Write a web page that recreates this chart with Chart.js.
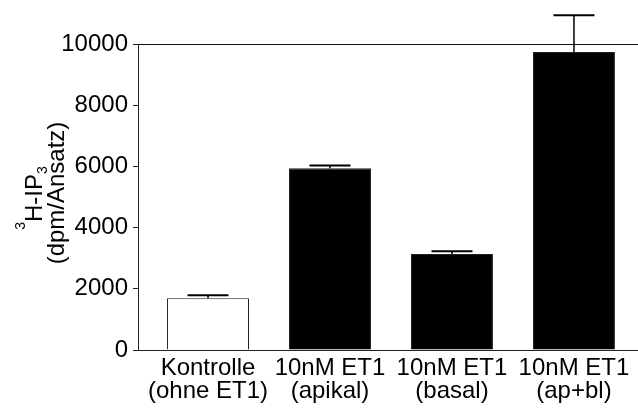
<!DOCTYPE html>
<html>
<head>
<meta charset="utf-8">
<script src="https://cdn.jsdelivr.net/npm/chart.js@4"></script>
<style>
  html, body { margin: 0; padding: 0; background: #fff; }
  canvas { display: block; }
</style>
</head>
<body>
<canvas id="myChart" width="638" height="410"></canvas>
<script>
// values
var categories = [
    ['Kontrolle', '(ohne ET1)'],
    ['10nM ET1', '(apikal)'],
    ['10nM ET1', '(basal)'],
    ['10nM ET1', '(ap+bl)']
];
var ipValues = [1690, 5940, 3140, 9740];
var ipErrors = [100, 90, 90, 1200];
var barColors = ['#ffffff', '#000000', '#000000', '#000000'];
var yTicks = [0, 2000, 4000, 6000, 8000, 10000];

var fontFamily = "'Liberation Sans', Arial, sans-serif";
Chart.defaults.font.family = fontFamily;
Chart.defaults.color = '#000';

// error bars (only the upper half, like the original)
var errorBars = {
    id: 'errorBars',
    afterDatasetsDraw: function (chart) {
        var ctx = chart.ctx;
        var meta = chart.getDatasetMeta(0);
        var yScale = chart.scales.y;
        ctx.save();
        ctx.strokeStyle = '#000';
        meta.data.forEach(function (bar, i) {
            var top = yScale.getPixelForValue(ipValues[i] + ipErrors[i]);
            var base = yScale.getPixelForValue(ipValues[i]);
            var half = bar.width / 4;
            ctx.lineWidth = 1.5;
            ctx.beginPath();
            ctx.moveTo(bar.x, base);
            ctx.lineTo(bar.x, top);
            ctx.stroke();
            ctx.lineWidth = 2;
            ctx.beginPath();
            ctx.moveTo(bar.x - half, top);
            ctx.lineTo(bar.x + half, top);
            ctx.stroke();
        });
        ctx.restore();
    }
};

// y title with super- and subscript
var yTitle = {
    id: 'yTitle',
    afterDraw: function (chart) {
        var ctx = chart.ctx;
        var area = chart.chartArea;
        var cy = (area.top + area.bottom) / 2;
        var big = '24px ' + fontFamily;
        var small = '14px ' + fontFamily;
        ctx.save();
        ctx.fillStyle = '#000';
        ctx.textBaseline = 'alphabetic';

        // line 1: 3H-IP3
        ctx.save();
        ctx.translate(0, cy + 1);
        ctx.rotate(-Math.PI / 2);
        ctx.font = small;
        var wSup = ctx.measureText('3').width;
        ctx.font = big;
        var wMain = ctx.measureText('H-IP').width;
        ctx.font = small;
        var wSub = ctx.measureText('3').width;
        var u = -(wSup + wMain + wSub) / 2;
        ctx.textAlign = 'left';
        ctx.font = small;
        ctx.fillText('3', u, 25);
        u += wSup;
        ctx.font = big;
        ctx.fillText('H-IP', u, 42);
        u += wMain;
        ctx.font = small;
        ctx.fillText('3', u, 47);
        ctx.restore();

        // line 2
        ctx.save();
        ctx.translate(0, cy - 4);
        ctx.rotate(-Math.PI / 2);
        ctx.font = big;
        ctx.textAlign = 'center';
        ctx.fillText('(dpm/Ansatz)', 0, 64);
        ctx.restore();

        ctx.restore();
    }
};

var ctx = document.getElementById('myChart');
var myChart = new Chart(ctx, {
    type: 'bar',
    data: {
        datasets: [{
            data: ipValues.map(function (v, i) { return { x: i, y: v }; }),
            backgroundColor: barColors,
            borderColor: '#222',
            borderWidth: 1,
            barPercentage: 0.672,
            categoryPercentage: 1
        }]
    },
    options: {
        responsive: false,
        animation: false,
        events: [],
        layout: {
            autoPadding: false,
            padding: { top: 44, left: 0, right: 0, bottom: 0 }
        },
        plugins: {
            legend: { display: false },
            tooltip: { enabled: false }
        },
        scales: {
            x: {
                type: 'linear',
                offset: false,
                min: -0.574,
                max: 3.525,
                afterBuildTicks: function (axis) {
                    axis.ticks = categories.map(function (c, i) { return { value: i }; });
                },
                afterFit: function (axis) { axis.height = 60; },
                grid: { display: false, drawTicks: false, offset: false },
                border: { display: true, color: '#222', width: 1 },
                ticks: {
                    autoSkip: false,
                    maxRotation: 0,
                    padding: 7,
                    color: '#000',
                    font: { size: 24, lineHeight: 0.96 },
                    callback: function (value) { return categories[value]; }
                }
            },
            y: {
                min: 0,
                max: 10000,
                afterBuildTicks: function (axis) {
                    axis.ticks = yTicks.map(function (v) { return { value: v }; });
                },
                afterFit: function (axis) { axis.width = 138; },
                grid: {
                    drawOnChartArea: true,
                    color: function (c) { return c.tick && c.tick.value === 10000 ? '#111' : 'rgba(0,0,0,0)'; },
                    tickColor: '#222',
                    tickLength: 5,
                    lineWidth: 1
                },
                border: { display: true, color: '#222', width: 1 },
                ticks: {
                    padding: 5,
                    color: '#000',
                    font: { size: 24 },
                    callback: function (value) { return String(value); }
                }
            }
        }
    },
    plugins: [errorBars, yTitle]
});
</script>
</body>
</html>
